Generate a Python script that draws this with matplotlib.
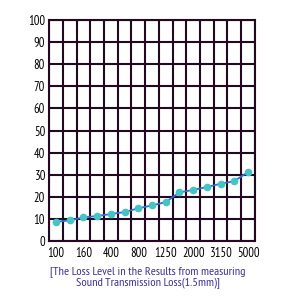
import numpy as np
import matplotlib
matplotlib.use('Agg')
from matplotlib import pyplot as plt

# frequency bands (every other one labelled)
freq_labels = ['100', '', '160', '', '400', '', '800', '', '1250', '', '2000', '', '3150', '', '5000']
loss = [8.7, 9.3, 10.7, 11.3, 12.2, 13.1, 14.8, 16.1, 17.6, 22.0, 23.1, 24.4, 25.9, 27.1, 31.2]
y_ticks = [0, 10, 20, 30, 40, 50, 60, 70, 80, 90, 100]

plt.rcParams['font.family'] = ['PT Sans Narrow', 'DejaVu Sans']

fig = plt.figure(figsize=(2.89, 2.99), dpi=100)
ax = fig.add_axes([0.170, 0.194, 0.712, 0.739])

x = np.arange(len(loss))
ax.plot(x, loss, color='#2f6fd6', lw=1.3, zorder=3)
ax.plot(x, loss, 'o', color='#45c3c6', ms=4.5, zorder=4)

ax.set_xlim(-0.5, len(loss) - 0.5)
ax.set_ylim(0, 100)
ax.set_xticks(x)
ax.set_xticklabels(freq_labels)
ax.set_yticks(y_ticks)

ax.grid(False)
for xv in np.arange(-0.5, len(loss)):
    ax.axvline(xv, color='#220820', lw=1.5, zorder=1)
for yv in y_ticks:
    ax.axhline(yv, color='#220820', lw=1.5, zorder=1)
for s in ax.spines.values():
    s.set_color('#220820')
    s.set_linewidth(1.5)

ax.tick_params(which='both', length=0, labelsize=9, colors='black', pad=3)
ax.tick_params(axis='x', pad=4)

fig.text(0.512, 0.072, '[The Loss Level in the Results from measuring\nSound Transmission Loss(1.5mm)]',
         ha='center', va='center', fontsize=8.8, color='#3a2f9a', linespacing=1.05)

fig.savefig('out.png', dpi=100)
